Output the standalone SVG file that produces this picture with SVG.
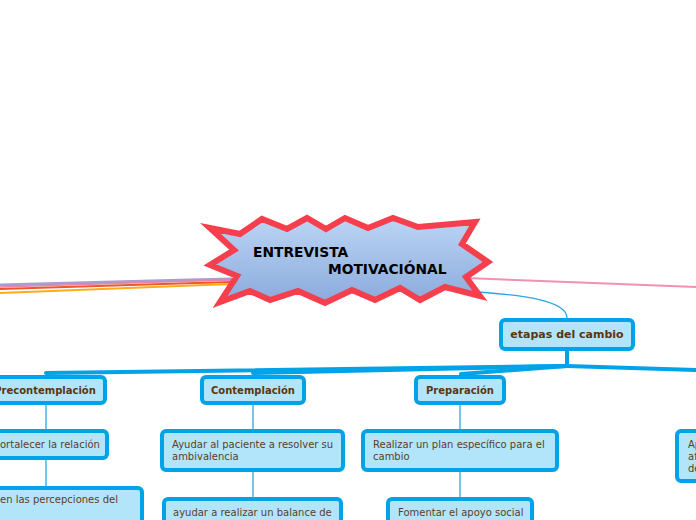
<svg xmlns="http://www.w3.org/2000/svg" width="696" height="520" viewBox="0 0 696 520">
<defs>
<linearGradient id="starFill" x1="0" y1="0" x2="0" y2="1">
<stop offset="0" stop-color="#bcd5f5"/>
<stop offset="1" stop-color="#8aaadc"/>
</linearGradient>
<style>
.box{fill:#b3e5fa;stroke:#00a3e8;stroke-width:4}
.lbl{font-family:"DejaVu Sans",Verdana,sans-serif;font-size:10px;fill:#5c3d1e}
.hd{font-family:"DejaVu Sans",Verdana,sans-serif;font-size:10px;font-weight:bold;fill:#5a3510;text-anchor:middle}
.thin{fill:none;stroke:#2aa6e2;stroke-width:1.3}
.trunk{fill:none;stroke:#00a3e8;stroke-width:4;stroke-linecap:round}
.title{font-family:"DejaVu Sans",Verdana,sans-serif;font-size:13.8px;font-weight:bold;fill:#000}
</style>
</defs>
<rect width="696" height="520" fill="#fff"/>
<g id="connectors">
<path d="M232,279 C150,281 60,283 0,285" fill="none" stroke="#ab9ccf" stroke-width="3"/>
<path d="M232,280 C150,282 60,285 0,287" fill="none" stroke="#e884a8" stroke-width="1.5"/>
<path d="M232,282 C150,284 60,287 0,289" fill="none" stroke="#f0552e" stroke-width="2"/>
<path d="M232,284 C150,287 60,290 0,293" fill="none" stroke="#ffab1a" stroke-width="2"/>
<path d="M465,278 C540,281 620,284 696,287" fill="none" stroke="#f290b4" stroke-width="2"/>
<path d="M455,291 C530,294 567,302 567,318" class="thin"/>
<path d="M567,351 L567,366" class="trunk"/>
<path d="M567,366 L46,373" class="trunk"/>
<path d="M567,366 L253,373" class="trunk"/>
<path d="M567,366 L461,374" class="trunk"/>
<path d="M567,366 L700,370" class="trunk"/>
<path d="M46,405 L46,431" class="thin"/>
<path d="M46,460 L46,488" class="thin"/>
<path d="M253,405 L253,431" class="thin"/>
<path d="M253,472 L253,499" class="thin"/>
<path d="M460,405 L460,431" class="thin"/>
<path d="M460,472 L460,499" class="thin"/>
</g>
<g id="central">
<polygon points="210,228 240,234 262,219 287,229 307,218 326,229 345,218 368,228 393,218 418,227 475,222 462,244 488,262 466,277 480,296 445,287 420,300 400,288 375,300 352,290 325,303 298,291 270,300 250,291 220,302 237,276 210,265 234,250" fill="url(#starFill)" stroke="#f53f4c" stroke-width="6" stroke-linejoin="miter"/>
<text class="title" x="253" y="257">ENTREVISTA</text>
<text class="title" x="328" y="274">MOTIVACIÓNAL</text>
</g>
<g id="etapas">
<rect class="box" x="501" y="320" width="132" height="29" rx="4"/>
<text class="hd" x="567" y="338" style="font-size:11px">etapas del cambio</text>
</g>
<g id="precontemplacion">
<rect class="box" x="-12" y="377" width="117" height="26" rx="4"/>
<text class="hd" x="45" y="394">Precontemplación</text>
</g>
<g id="contemplacion">
<rect class="box" x="202" y="377" width="102" height="26" rx="4"/>
<text class="hd" x="253" y="394">Contemplación</text>
</g>
<g id="preparacion">
<rect class="box" x="416" y="377" width="88" height="26" rx="4"/>
<text class="hd" x="460" y="394">Preparación</text>
</g>
<g id="fortalecer">
<rect class="box" x="-15" y="431" width="122" height="27" rx="4"/>
<text class="lbl" x="0" y="448">ortalecer la relación</text>
</g>
<g id="percepciones">
<rect class="box" x="-20" y="488" width="162" height="60" rx="4"/>
<text class="lbl" x="0" y="503">en las percepciones del</text>
</g>
<g id="ayudar-resolver">
<rect class="box" x="162" y="431" width="181" height="39" rx="4"/>
<text class="lbl" x="172" y="448">Ayudar al paciente a resolver su</text>
<text class="lbl" x="172" y="460">ambivalencia</text>
</g>
<g id="ayudar-balance">
<rect class="box" x="164" y="499" width="177" height="60" rx="4"/>
<text class="lbl" x="173" y="516">ayudar a realizar un balance de</text>
</g>
<g id="realizar-plan">
<rect class="box" x="363" y="431" width="194" height="39" rx="4"/>
<text class="lbl" x="373" y="448">Realizar un plan específico para el</text>
<text class="lbl" x="373" y="460">cambio</text>
</g>
<g id="fomentar">
<rect class="box" x="388" y="499" width="144" height="60" rx="4"/>
<text class="lbl" x="398" y="516">Fomentar el apoyo social</text>
</g>
<g id="right-node">
<rect class="box" x="677" y="431" width="60" height="50" rx="4"/>
<text class="lbl" x="688" y="448">Ap</text>
<text class="lbl" x="688" y="460">af</text>
<text class="lbl" x="688" y="472">de</text>
</g>
</svg>
